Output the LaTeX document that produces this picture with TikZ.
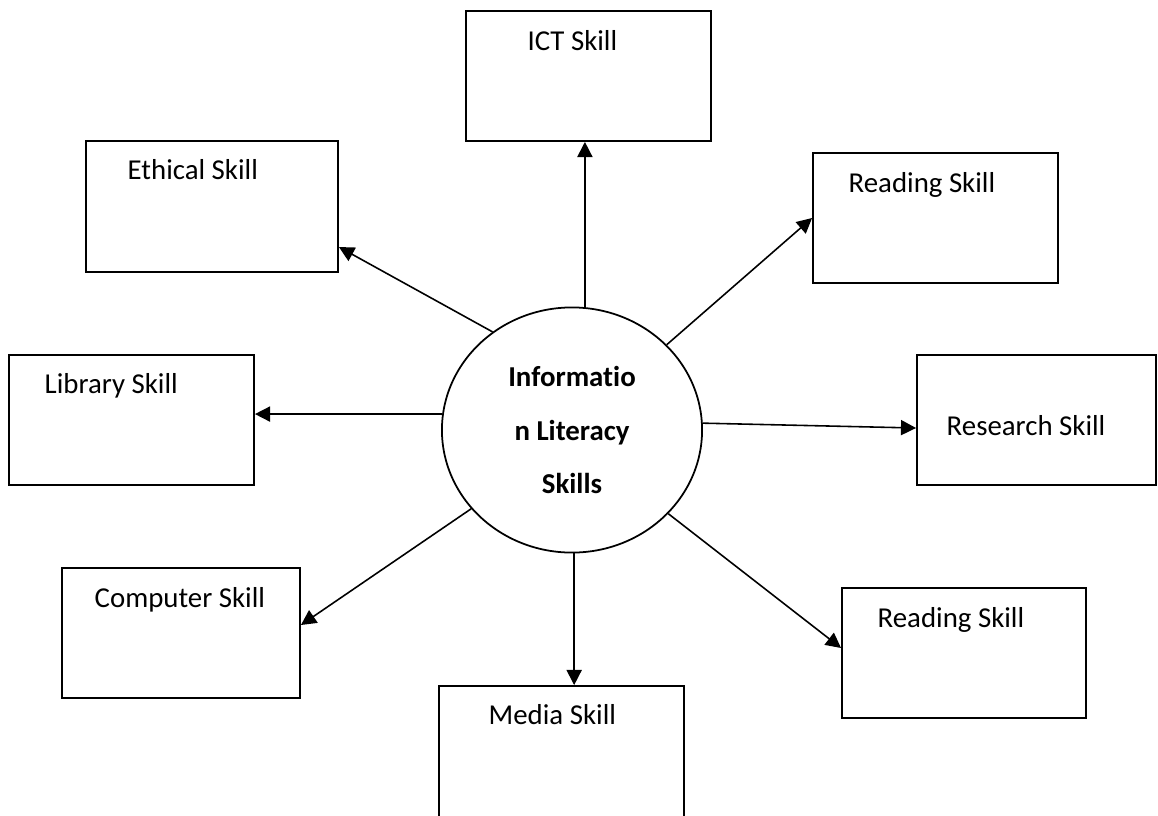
\documentclass[tikz,border=0pt]{standalone}
\usepackage{fontspec}
\setmainfont{Carlito}[Ligatures=CommonOff]
\usepackage{tikz}
\usetikzlibrary{shapes.geometric, arrows.meta, positioning, calc}

\tikzset{
	skillbox/.style={draw, line width=0.5pt, rectangle, inner sep=0pt},
	skilltext/.style={anchor=base west, inner sep=0pt, font=\fontsize{8.2}{10}\selectfont},
	link/.style={line width=0.45pt, -{Triangle[length=4.3pt,width=4.3pt]}}
}

\begin{document}
\begin{tikzpicture}[x=0.01cm, y=-0.01cm]
		\useasboundingbox (0,0) rectangle (1158,815);

		% Centre
		\node[draw, line width=0.5pt, ellipse, minimum width=2.6cm, minimum height=2.45cm, inner sep=0pt,
			align=center, font=\bfseries\fontsize{8.2}{15.2}\selectfont] (ils) at (572,430)
			{Informatio\\n Literacy\\Skills};

		% Skill boxes
		\node[skillbox, minimum width=2.45cm, minimum height=1.3cm] (ict) at (588.5,76) {};
		\node[skillbox, minimum width=2.52cm, minimum height=1.31cm] (ethical) at (212,206.5) {};
		\node[skillbox, minimum width=2.45cm, minimum height=1.3cm] (reading-1) at (935.5,218) {};
		\node[skillbox, minimum width=2.45cm, minimum height=1.3cm] (library) at (131.5,420) {};
		\node[skillbox, minimum width=2.39cm, minimum height=1.3cm] (research) at (1036.5,420) {};
		\node[skillbox, minimum width=2.38cm, minimum height=1.3cm] (computer) at (181,633) {};
		\node[skillbox, minimum width=2.44cm, minimum height=1.3cm] (reading-2) at (964,653) {};
		\node[skillbox, minimum width=2.45cm, minimum height=1.5cm] (media) at (561.5,761) {};

		% Labels
		\node[skilltext] (ict-t) at (527,50) {ICT Skill};
		\node[skilltext] (ethical-t) at (127,179) {Ethical Skill};
		\node[skilltext] (reading-1-t) at (848,192) {Reading Skill};
		\node[skilltext] (library-t) at (44,393) {Library Skill};
		\node[skilltext] (research-t) at (946,435) {Research Skill};
		\node[skilltext] (computer-t) at (94,607) {Computer Skill};
		\node[skilltext] (reading-2-t) at (877,627) {Reading Skill};
		\node[skilltext] (media-t) at (488,724) {Media Skill};

		% Arrows
		\draw[link] (ils.84.4) -- (ils.84.4 |- ict.south);
		\draw[link] (ils.129.9) -- ([yshift=-0.405cm]ethical.east);
		\draw[link] (ils.42.8) -- (reading-1.west);
		\draw[link] (ils.173.9) -- (ils.173.9 -| library.east);
		\draw[link] (ils.3.5) -- ([yshift=-0.08cm]research.west);
		\draw[link] (ils.218.9) -- ([yshift=0.08cm]computer.east);
		\draw[link] (ils.271.9) -- (ils.271.9 |- media.north);
		\draw[link] (ils.319.2) -- ([yshift=0.05cm]reading-2.west);
	\end{tikzpicture}
\end{document}
